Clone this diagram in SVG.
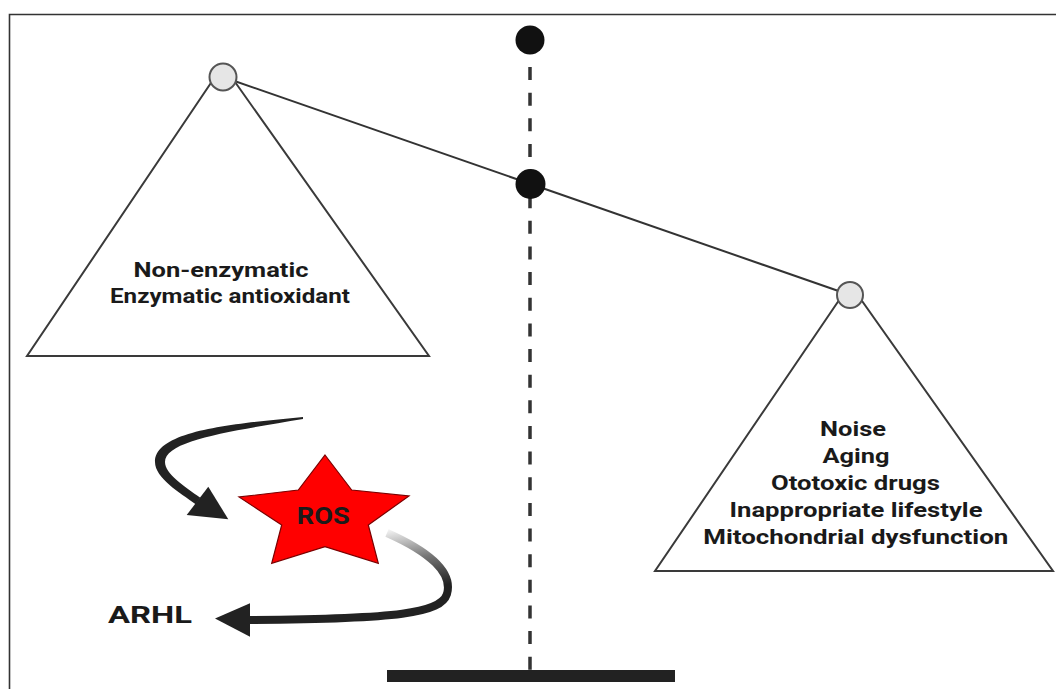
<svg xmlns="http://www.w3.org/2000/svg" width="1056" height="689" viewBox="0 0 1056 689">
<defs>
<style>
.t{font-family:Roboto,"Liberation Sans",sans-serif;font-weight:bold;font-size:21px;fill:#1a1a1a;text-anchor:middle}
.tri{fill:#fff;stroke:#3a3a3a;stroke-width:2}
.pan{fill:#e6e6e6;stroke:#555;stroke-width:2}
.dot{fill:#111}
</style>
<linearGradient id="g1" gradientUnits="userSpaceOnUse" x1="390" y1="530" x2="400" y2="592">
<stop offset="0" stop-color="#f2f2f2"/>
<stop offset="0.5" stop-color="#777"/>
<stop offset="1" stop-color="#222"/>
</linearGradient>
</defs>
<rect width="1056" height="689" fill="#fff"/>
<path d="M9.5,689 V14.5 H1056" fill="none" stroke="#333" stroke-width="1.6"/>
<g id="connectors">
<line x1="530" y1="67" x2="530" y2="670" stroke="#333" stroke-width="3.5" stroke-dasharray="13 12.64"/>
<line x1="223" y1="77" x2="850" y2="295" stroke="#333" stroke-width="2"/>
<path id="arrow-in" d="M303,417 C230,424 155,431 155,462 C155,478 179.7,492.6 195.7,504.2 L200.3,497.8 C184.3,486.2 165,474 165,462 C165,440 232,431 303,419 Z" fill="#222"/>
<polygon points="228.3,519.3 208.3,486.7 186.7,515" fill="#222"/>
<path id="arrow-out" d="M387,533 C430,552 453,573 447,594 C441,613 400,619 248,620" fill="none" stroke="url(#g1)" stroke-width="8"/>
<polygon points="215,618.5 250,603.3 250,636.7" fill="#222"/>
</g>
<g id="stand">
<rect x="387" y="670" width="288" height="12" fill="#222"/>
<circle class="dot" cx="530" cy="40" r="14.5"/>
<circle class="dot" cx="530.5" cy="184" r="15"/>
</g>
<g id="left-pan">
<polygon class="tri" points="223,65 27,356 429,356"/>
<circle class="pan" cx="223" cy="77" r="13.5"/>
<text class="t" x="221" y="276.7" textLength="175" lengthAdjust="spacingAndGlyphs">Non-enzymatic</text>
<text class="t" x="230" y="303.3" textLength="240" lengthAdjust="spacingAndGlyphs">Enzymatic antioxidant</text>
</g>
<g id="right-pan">
<polygon class="tri" points="850,284 655,571 1053,571"/>
<circle class="pan" cx="850" cy="295" r="13"/>
<text class="t" x="853" y="435.5" textLength="66" lengthAdjust="spacingAndGlyphs">Noise</text>
<text class="t" x="856" y="462.5" textLength="67" lengthAdjust="spacingAndGlyphs">Aging</text>
<text class="t" x="855.5" y="489.5" textLength="169" lengthAdjust="spacingAndGlyphs">Ototoxic drugs</text>
<text class="t" x="856" y="516.5" textLength="253" lengthAdjust="spacingAndGlyphs">Inappropriate lifestyle</text>
<text class="t" x="855.8" y="543.5" textLength="305" lengthAdjust="spacingAndGlyphs">Mitochondrial dysfunction</text>
</g>
<g id="ros">
<polygon points="325,455 351.7,490 409,496 368.3,525 378.3,563.3 325,546.7 271.7,563.3 281.7,525 239,497 298.3,490" fill="#ff0000" stroke="#7a0000" stroke-width="1.2"/>
<text class="t" x="323.3" y="524" textLength="53" lengthAdjust="spacingAndGlyphs" style="font-size:24px">ROS</text>
</g>
<g id="arhl">
<text class="t" x="150" y="623" textLength="84" lengthAdjust="spacingAndGlyphs" style="font-size:23px">ARHL</text>
</g>
</svg>
